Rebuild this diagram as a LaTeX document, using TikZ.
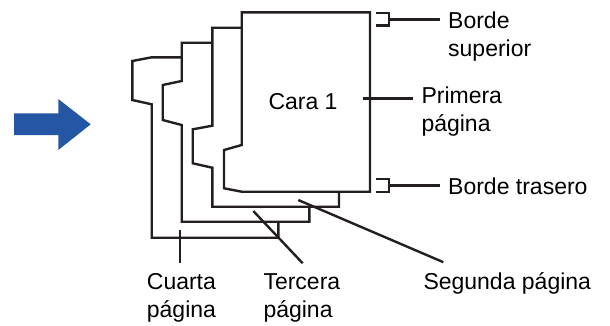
\documentclass[tikz,border=0pt]{standalone}
\usepackage{fontspec}
\setmainfont{Liberation Sans}
\usetikzlibrary{positioning}
\definecolor{linegray}{HTML}{231F20}
\definecolor{arrowblue}{HTML}{2556A3}

\begin{document}
\begin{tikzpicture}[
    x=1pt, y=-1pt,
    font=\fontsize{23}{28.5}\selectfont,
    page/.style={draw=linegray, line width=2.4pt, fill=white},
    leader/.style={draw=linegray, line width=2.4pt},
    sidelbl/.style={align=left, inner xsep=8pt, inner ysep=0pt, anchor=base west},
    footlbl/.style={align=left, inner xsep=0pt, inner ysep=10pt, anchor=base west}
]
\useasboundingbox (0,0) rectangle (610,325);

% --- blue arrow ---
\fill[arrowblue] (14,113.3) -- (58.3,113.3) -- (58.3,99) -- (90.7,124.3)
    -- (58.3,150) -- (58.3,135) -- (14,135) -- cycle;

% --- stacked pages, back to front ---
\draw[page] (181.7,57.3) -- (151.7,57.3) -- (132.3,61) -- (132.3,100) -- (151.7,104.3)
    -- (151.7,237.7) -- (278.3,237.7) -- (278.3,57.3) -- cycle;
\draw[page] (212.3,42.7) -- (181.7,42.7) -- (181.7,81) -- (162.7,85) -- (162.7,120) -- (181.7,125)
    -- (181.7,221.7) -- (309.3,221.7) -- (309.3,42.7) -- cycle;
\draw[page] (241.7,27.7) -- (212.3,27.7) -- (212.3,125.7) -- (192.7,129.3) -- (192.7,163.3) -- (212.3,167.7)
    -- (212.3,206.7) -- (339,206.7) -- (339,27.7) -- cycle;
\draw[page] (370,12.3) -- (241.7,12.3) -- (241.7,145) -- (224,150) -- (224,188.3) -- (241.7,191.7)
    -- (370,191.7) -- cycle;

\node[inner sep=0pt, anchor=base west] (cara) at (268.3,109) {Cara 1};

% --- anchor points on the pages ---
\coordinate (supc) at (389,19.3);
\coordinate (primc) at (363,98.3);
\coordinate (trasc) at (389,185.3);
\coordinate (cuac) at (180,230);
\coordinate (terc) at (253.3,211);
\coordinate (segc) at (298.3,200);

% --- labels (base = last line) ---
\node[sidelbl] (bsup) at (440,56.8) {Borde\\superior};
\node[sidelbl] (prim) at (413.3,131.8) {Primera\\página};
\node[sidelbl] (btras) at (440,194.3) {Borde trasero};
\node[footlbl] (cuarta) at (146.7,317.8) {Cuarta\\página};
\node[footlbl] (tercera) at (263.3,317.8) {Tercera\\página};
\node[footlbl] (segunda) at (423.3,289.3) {Segunda página};

% brackets and leaders
\draw[leader] (376,13) -| (389,25.3) -- (376,25.3);
\draw[leader] (supc) -- (supc -| bsup.west);
\draw[leader] (primc) -- (primc -| prim.west);
\draw[leader] (376,179) -| (389,191.7) -- (376,191.7);
\draw[leader] (trasc) -- (trasc -| btras.west);
\draw[leader] (cuac) -- (cuac |- cuarta.north);
\draw[leader] (terc) -- ([xshift=39.4pt]tercera.north west);
\draw[leader] (segc) -- ([xshift=20pt]segunda.north west);

\end{tikzpicture}
\end{document}
